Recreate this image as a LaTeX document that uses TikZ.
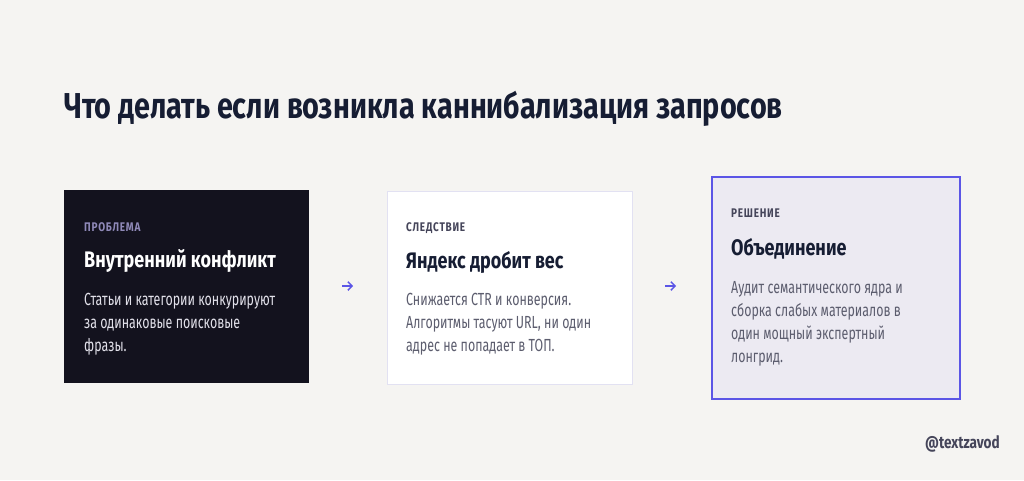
\documentclass[tikz,border=0pt]{standalone}
\usepackage{fontspec}
\setmainfont{Fira Sans}[FakeStretch=0.8]
\newfontfamily\bodyfont{Fira Sans}[FakeStretch=0.71]
\usetikzlibrary{arrows.meta}
\definecolor{bg}{HTML}{F5F4F2}
\definecolor{navy}{HTML}{161D33}
\definecolor{darkbox}{HTML}{13121E}
\definecolor{lav}{HTML}{8F89B8}
\definecolor{lightbody}{HTML}{E2E1EA}
\definecolor{softborder}{HTML}{E2E1F2}
\definecolor{greylabel}{HTML}{45455A}
\definecolor{greybody}{HTML}{5C5D6E}
\definecolor{solfill}{HTML}{ECEAF2}
\definecolor{accent}{HTML}{5B55E6}
\tikzset{
  cardlabel/.style={anchor=base west, inner sep=0pt, font=\fontsize{12.5}{14}\selectfont\bfseries},
  cardhead/.style={anchor=base west, inner sep=0pt, font=\fontsize{22.5}{26}\selectfont\bfseries},
  cardbody/.style={anchor=base west, inner sep=0pt, align=left, font=\bodyfont\fontsize{17.5}{23}\selectfont},
  flow/.style={draw=accent, line width=1.5pt, -{Straight Barb[length=4pt,width=8.5pt,line width=1.5pt]}},
}
\begin{document}
\begin{tikzpicture}[x=1pt,y=-1pt]
\useasboundingbox[fill=bg] (0,0) rectangle (1024,480);
\node[anchor=base west, inner sep=0pt, text=navy, font=\fontsize{36}{40}\selectfont\bfseries] (title) at (64,118) {Что делать если возникла каннибализация запросов};
% cards
\node[draw=none, fill=darkbox, minimum width=245pt, minimum height=193pt, anchor=north west, inner sep=0pt] (c1) at (64,190) {};
\node[draw=softborder, line width=1pt, fill=white, minimum width=245pt, minimum height=193pt, anchor=north west, inner sep=0pt] (c2) at (387,190.5) {};
\node[draw=accent, line width=2pt, fill=solfill, minimum width=248pt, minimum height=222pt, anchor=north west, inner sep=0pt] (c3) at (711,176) {};
% card 1
\node[cardlabel, text=lav] (l1) at (84,231) {\addfontfeature{LetterSpace=6}ПРОБЛЕМА};
\node[cardhead, text=white] (h1) at (84,267) {Внутренний конфликт};
\node[cardbody, text=lightbody] (b1) at (84,351) {Статьи и категории конкурируют\\за одинаковые поисковые\\фразы.};
% card 2
\node[cardlabel, text=greylabel] (l2) at (406,231) {\addfontfeature{LetterSpace=6}СЛЕДСТВИЕ};
\node[cardhead, text=navy] (h2) at (406,268) {Яндекс дробит вес};
\node[cardbody, text=greybody] (b2) at (406,351) {Снижается CTR и конверсия.\\Алгоритмы тасуют URL, ни один\\адрес не попадает в ТОП.};
% card 3
\node[cardlabel, text=greylabel] (l3) at (731,217) {\addfontfeature{LetterSpace=6}РЕШЕНИЕ};
\node[cardhead, text=navy] (h3) at (731,255) {Объединение};
\node[cardbody, text=greybody] (b3) at (731,362) {Аудит семантического ядра и\\сборка слабых материалов в\\один мощный экспертный\\лонгрид.};
% arrows
\coordinate (a1s) at (342,286);
\coordinate (a1e) at (353,286);
\coordinate (a2s) at (665,286);
\coordinate (a2e) at (676,286);
\draw[flow] (a1s) -- (a1e);
\draw[flow] (a2s) -- (a2e);
\node[anchor=base east, inner sep=0pt, text=greylabel, font=\fontsize{17}{20}\selectfont\bfseries] (brand) at (1000,448) {@textzavod};
\end{tikzpicture}
\end{document}
